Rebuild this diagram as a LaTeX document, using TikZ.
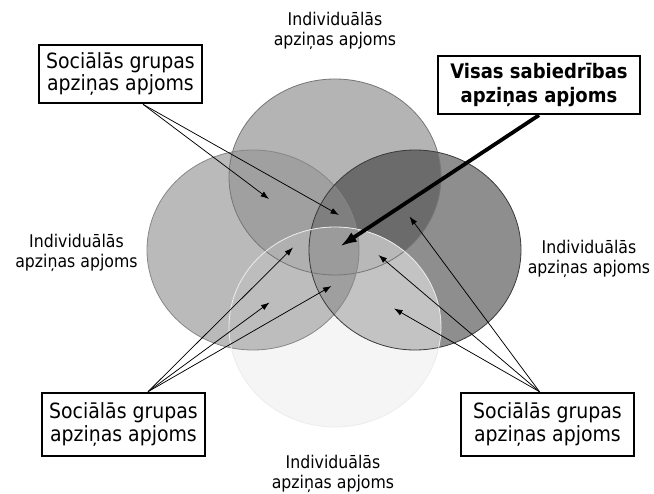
\documentclass[tikz,border=0pt]{standalone}
\usepackage{fontspec}
\setmainfont{DejaVu Sans Condensed}
\usetikzlibrary{arrows.meta}

% region shades
\definecolor{cT}{HTML}{B4B4B4}
\definecolor{cL}{HTML}{BABABA}
\definecolor{cR}{HTML}{8E8E8E}
\definecolor{cB}{HTML}{F5F5F5}
\definecolor{cTL}{HTML}{A0A0A0}
\definecolor{cTR}{HTML}{6B6B6B}
\definecolor{cLR}{HTML}{9F9F9F}
\definecolor{cTLR}{HTML}{7F7F7F}
\definecolor{cBT}{HTML}{B4B4B4}
\definecolor{cBL}{HTML}{BDBDBD}
\definecolor{cBR}{HTML}{C3C3C3}
\definecolor{cBLR}{HTML}{9F9F9F}
\definecolor{cBTL}{HTML}{B0B0B0}
\definecolor{cBTR}{HTML}{B8B8B8}
\definecolor{cAll}{HTML}{9B9B9B}

% the four circles
\def\circT{(335,177) ellipse [x radius=106bp, y radius=98bp]}
\def\circL{(253,250) ellipse [x radius=106bp, y radius=100bp]}
\def\circR{(415,250) ellipse [x radius=106bp, y radius=100bp]}
\def\circB{(335,327) ellipse [x radius=106bp, y radius=100bp]}

\tikzset{
  groupbox/.style={draw, line width=2.6bp, fill=white, align=center, inner sep=0pt,
    font=\fontsize{21bp}{22.5bp}\selectfont},
  sumbox/.style={groupbox, line width=2.3bp,
    font=\bfseries\fontsize{20bp}{24bp}\selectfont},
  indlabel/.style={align=center, inner sep=0pt, font=\fontsize{17.5bp}{20bp}\selectfont},
  pointer/.style={-{Latex[length=8.5bp,width=6bp]}, line width=0.75bp},
  mainpointer/.style={-{Latex[length=17bp,width=11bp]}, line width=3.8bp},
}

\begin{document}
\begin{tikzpicture}[x=1bp,y=-1bp]
\useasboundingbox (0,0) rectangle (654,494);

% single circles
\fill[cT] \circT;
\fill[cL] \circL;
\fill[cR] \circR;
% overlaps without the bottom circle
\begin{scope}\clip \circL; \fill[cLR] \circR; \end{scope}
\begin{scope}\clip \circL; \fill[cTL] \circT; \end{scope}
\begin{scope}\clip \circR; \fill[cTR] \circT; \end{scope}
\begin{scope}\clip \circL; \clip \circR; \fill[cTLR] \circT; \end{scope}
% bottom circle and its overlaps
\fill[cB] \circB;
\begin{scope}
  \clip \circB;
  \fill[cBT] \circT;
  \fill[cBL] \circL;
  \fill[cBR] \circR;
  \begin{scope}\clip \circL; \fill[cBLR] \circR; \end{scope}
  \begin{scope}
    \clip \circT;
    \fill[cBTL] \circL;
    \fill[cBTR] \circR;
    \begin{scope}\clip \circL; \fill[cAll] \circR; \end{scope}
  \end{scope}
\end{scope}

% outlines
\draw[line width=0.8bp, color={rgb,255:red,118;green,118;blue,118}] \circT;
\draw[line width=0.8bp, color={rgb,255:red,135;green,135;blue,135}] \circL;
\draw[line width=0.8bp, color={rgb,255:red,58;green,58;blue,58}] \circR;
\draw[line width=0.8bp, color={rgb,255:red,236;green,236;blue,236}] \circB;

% labels of the individual circles
\node[indlabel] (indTop) at (335,31) {Individuālās\\apziņas apjoms};
\node[indlabel] (indLeft) at (76.5,253) {Individuālās\\apziņas apjoms};
\node[indlabel] (indRight) at (589,258.5) {Individuālās\\apziņas apjoms};
\node[indlabel] (indBottom) at (333,474) {Individuālās\\apziņas apjoms};

% boxes
\node[groupbox, minimum width=163bp, minimum height=58bp] (gTL) at (120.5,74) {Sociālās grupas\\apziņas apjoms};
\node[groupbox, minimum width=163bp, minimum height=63bp] (gBL) at (123.5,424.5) {Sociālās grupas\\apziņas apjoms};
\node[groupbox, minimum width=173bp, minimum height=63bp] (gBR) at (547.5,424.5) {Sociālās grupas\\apziņas apjoms};
\node[sumbox, minimum width=202bp, minimum height=58bp] (all) at (539,85) {Visas sabiedrības\\apziņas apjoms};

% arrow targets
\coordinate (tA) at (269,199);
\coordinate (tB) at (339,215);
\coordinate (tC) at (293,247.5);
\coordinate (tD) at (269.5,302.5);
\coordinate (tE) at (331.5,286);
\coordinate (tF) at (378.5,255);
\coordinate (tG) at (394,308.5);
\coordinate (tH) at (409.5,216.5);
\coordinate (tM) at (340,246.5);

% fan points on the boxes
\coordinate (fTL) at ([xshift=22.5bp]gTL.south);
\coordinate (fBL) at ([xshift=24.5bp]gBL.north);
\coordinate (fBR) at ([xshift=-8bp]gBR.north);

\draw[pointer] (fTL) -- (tA);
\draw[pointer] (fTL) -- (tB);
\draw[pointer] (fBL) -- (tC);
\draw[pointer] (fBL) -- (tD);
\draw[pointer] (fBL) -- (tE);
\draw[pointer] (fBR) -- (tF);
\draw[pointer] (fBR) -- (tG);
\draw[pointer] (fBR) -- (tH);
\draw[mainpointer] (all.south) -- (tM);
\end{tikzpicture}
\end{document}
